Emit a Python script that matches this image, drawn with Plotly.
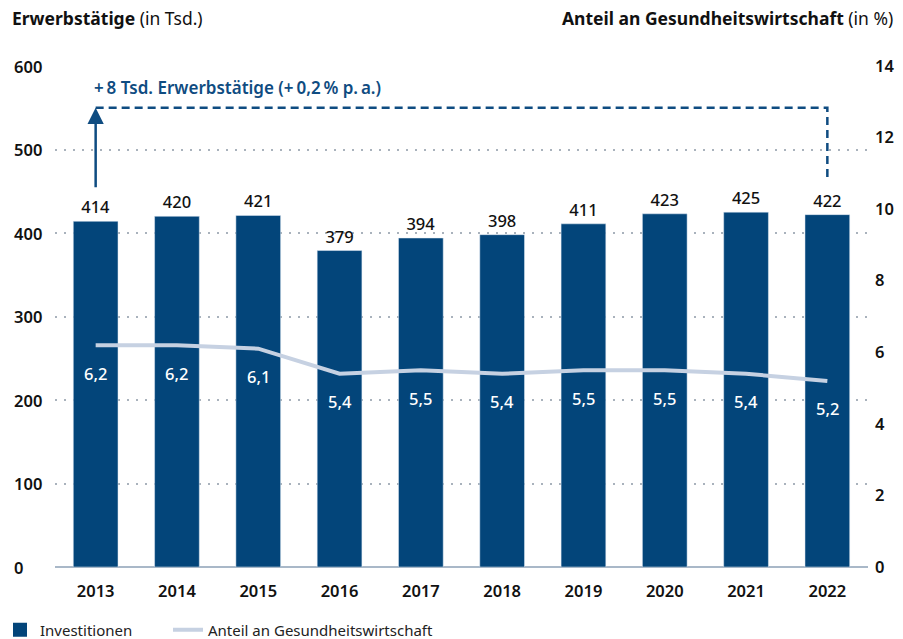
import plotly.graph_objects as go

years = ["2013", "2014", "2015", "2016", "2017", "2018", "2019", "2020", "2021", "2022"]
erwerbstaetige = [414, 420, 421, 379, 394, 398, 411, 423, 425, 422]
anteil = [6.2, 6.2, 6.1, 5.4, 5.5, 5.4, 5.5, 5.5, 5.4, 5.2]
left_ticks = [0, 100, 200, 300, 400, 500, 600]
right_ticks = [0, 2, 4, 6, 8, 10, 12, 14]

# annotation bracket levels (left axis units)
arrow_base = 453
arrow_top = 550
bracket_end = 463
note_level = 574

BAR = "#03457a"
LINE = "#c6d1e2"
NOTE = "#0f4c81"
FONT = "Noto Sans"

def fmt(v):
    return f"{v:.1f}".replace(".", ",")

fig = go.Figure()
fig.add_trace(go.Bar(
    x=years, y=erwerbstaetige, name="Investitionen", marker_color=BAR,
    text=[str(v) for v in erwerbstaetige], textposition="outside",
    textfont=dict(family=FONT, size=16.5, color="#111111", weight=500),
    cliponaxis=False, yaxis="y", showlegend=False,
))
# legend entry for bars (larger square symbol)
fig.add_trace(go.Scatter(
    x=[None], y=[None], name="Investitionen", mode="markers",
    marker=dict(symbol="square", size=14, color=BAR), legend="legend",
))
fig.add_trace(go.Scatter(
    x=years, y=anteil, name="Anteil an Gesundheitswirtschaft", mode="lines",
    line=dict(color=LINE, width=4), yaxis="y2", legend="legend2",
))
# dashed bracket
fig.add_trace(go.Scatter(
    x=[years[0], years[-1], years[-1]], y=[arrow_top, arrow_top, bracket_end],
    mode="lines", line=dict(color=NOTE, width=2.5, dash="8px,5px"),
    showlegend=False, hoverinfo="skip", yaxis="y",
))

annotations = []
for i, v in enumerate(anteil):
    annotations.append(dict(x=i, y=v, xref="x", yref="y2", text=fmt(v), showarrow=False,
                            yshift=-28, font=dict(family=FONT, size=16.5, color="white", weight=500)))
for t in left_ticks:
    annotations.append(dict(x=0, y=t, xref="paper", yref="y", text=str(t), showarrow=False,
                            xanchor="left", xshift=-43,
                            font=dict(family=FONT, size=16.5, color="#111111", weight=600)))
annotations.append(dict(x=0, y=arrow_top, ax=0, ay=arrow_base, xref="x", yref="y",
                        axref="x", ayref="y", showarrow=True, arrowhead=2, arrowsize=1.3,
                        arrowwidth=2.5, arrowcolor=NOTE, text=""))
annotations.append(dict(x=0, y=note_level, xref="x", yref="y", xanchor="left", xshift=-4,
                        text="+\u20098 Tsd. Erwerbstätige (+\u20090,2\u2009% p.\u2009a.)", showarrow=False,
                        font=dict(family=FONT, size=17, color=NOTE, weight=600)))
annotations.append(dict(x=0, y=1, xref="paper", yref="paper", xanchor="left", yanchor="middle",
                        xshift=-45, yshift=48,
                        text="<b>Erwerbstätige</b> (in Tsd.)", showarrow=False,
                        font=dict(family=FONT, size=17.5, color="#111111")))
annotations.append(dict(x=1, y=1, xref="paper", yref="paper", xanchor="right", yanchor="middle",
                        xshift=27, yshift=48,
                        text="<b>Anteil an Gesundheitswirtschaft</b> (in %)", showarrow=False,
                        font=dict(family=FONT, size=17.5, color="#111111")))

legend_common = dict(orientation="h", xref="container", yref="container", y=1 - 630 / 639,
                     xanchor="left", yanchor="middle", bgcolor="rgba(0,0,0,0)",
                     font=dict(family=FONT, size=15, color="#222222"), itemwidth=30)

fig.update_layout(
    width=903, height=639,
    margin=dict(l=55, r=35, t=66, b=72, autoexpand=False),
    plot_bgcolor="white", paper_bgcolor="white",
    bargap=0.45,
    font=dict(family=FONT, size=15, color="#111111"),
    xaxis=dict(type="category", range=[-0.5, len(years) - 0.5], showgrid=False, showline=False,
               ticks="", ticklabelstandoff=12,
               tickfont=dict(family=FONT, size=16.5, color="#111111", weight=600)),
    yaxis=dict(range=[0, 600], tickvals=left_ticks, showticklabels=False,
               showgrid=True, gridcolor="#a9b2bc", gridwidth=2, griddash="2px,7px",
               zeroline=True, zerolinecolor="#a9b8c8", zerolinewidth=2),
    yaxis2=dict(range=[0, 14], tickvals=right_ticks, overlaying="y", side="right",
                showgrid=False, zeroline=False, ticklabelstandoff=6,
                tickfont=dict(family=FONT, size=16.5, color="#111111", weight=600)),
    legend=dict(x=-15 / 903, **legend_common),
    legend2=dict(x=168 / 903, **legend_common),
    annotations=annotations,
    showlegend=True,
)
fig.write_html("out.html", config={"displayModeBar": False},
               post_script="document.body.style.margin='0';")
